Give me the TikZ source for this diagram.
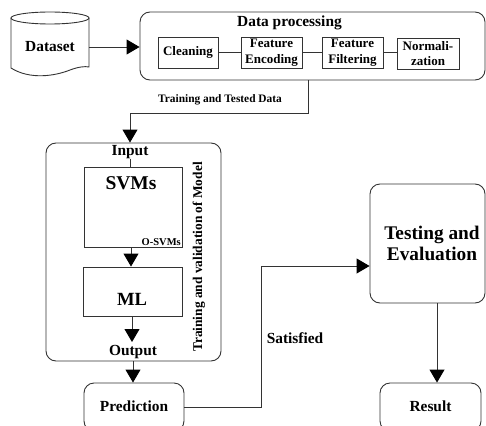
\documentclass[tikz,border=0pt]{standalone}
\usepackage{fontspec}
\setmainfont{Liberation Serif}
\usetikzlibrary{arrows.meta}
\begin{document}
\begin{tikzpicture}[x=1pt,y=-1pt,
  ln/.style={draw=black!80, line width=0.9pt},
  arr/.style={ln, -{Triangle[length=13pt,width=15pt,color=black]}},
  box/.style={ln, inner sep=0pt, align=center, font=\bfseries\fontsize{13}{15.5}\selectfont},
  rbox/.style={ln, rounded corners=10pt, inner sep=0pt, align=center},
  lbl/.style={inner sep=0pt, align=center, font=\bfseries\fontsize{15.4}{18}\selectfont},
]
\useasboundingbox (0,0) rectangle (486,425);
% Dataset cylinder
\draw[ln] (11,18) -- (11,68) .. controls (30,80) and (55,76) .. (70,70) .. controls (78,67) and (85,66) .. (89,67) -- (89,18);
\draw[ln] (50,18) ellipse [x radius=39, y radius=6];
\node[lbl, minimum width=78pt] (ds) at (50,47) {Dataset};
% Data processing
\node[rbox, minimum width=345pt, minimum height=68pt] (dp) at (312.5,46) {};
\node[lbl] (dpt) at (289.5,23) {Data processing};
\node[box, minimum width=60pt, minimum height=31pt] (cl) at (188,52.5) {Cleaning};
\node[box, minimum width=61pt, minimum height=31pt] (fe) at (271.5,52.5) {Feature\\Encoding};
\node[box, minimum width=61pt, minimum height=31pt] (ff) at (352.5,52.5) {Feature\\Filtering};
\node[box, minimum width=62pt, minimum height=31pt] (nm) at (428,53.5) {Normali-\\zation};
\draw[ln] (cl.east) -- (fe.west);
\draw[ln] (fe.east) -- (ff.west);
\draw[ln] (ff.east) -- (nm.west |- ff.east);
\draw[arr] (ds.east) -- (dp.west |- ds.east);
% Training and tested data
\node[inner sep=0pt, font=\bfseries\fontsize{11.4}{13}\selectfont] (ttd) at (220,100) {Training and Tested Data};
\coordinate (c1) at (308,113);
\coordinate (c2) at (130,113);
% Training box
\node[rbox, minimum width=175pt, minimum height=218pt] (tr) at (133.5,252) {};
\draw[arr] (dp.south -| c1) -- (c1) -- (c2) -- (c2 |- tr.north);
\node[lbl] (in) at (130,152) {Input};
\node[ln, inner sep=0pt, minimum width=98pt, minimum height=80pt] (svm) at (133,207) {};
\node[inner sep=0pt, font=\bfseries\fontsize{19.5}{22}\selectfont] (svmt) at (131,183) {SVMs};
\node[anchor=south east, inner sep=1.5pt, font=\bfseries\fontsize{10.5}{12}\selectfont] (osvm) at (svm.south east) {O-SVMs};
\draw[ln] (in.south -| 130,0) -- (svm.north -| 130,0);
\node[ln, inner sep=0pt, minimum width=99pt, minimum height=49pt] (ml) at (132.5,291.5) {};
\node[inner sep=0pt, font=\bfseries\fontsize{18.6}{22}\selectfont] (mlt) at (132,299) {ML};
\draw[arr] (svm.south -| 131,0) -- (ml.north -| 131,0);
\node[lbl] (out) at (133,352) {Output};
\draw[arr] (ml.south -| 132,0) -- (132,342);
\node[rotate=90, inner sep=0pt, font=\bfseries\fontsize{13.4}{15}\selectfont] (trl) at (199,257) {Training and validation of Model};
% Prediction
\node[rbox, minimum width=100pt, minimum height=48pt] (pred) at (134,407) {};
\node[lbl] (predt) at (134,406) {Prediction};
\draw[arr] (tr.south -| 133,0) -- (pred.north -| 133,0);
% Testing and Evaluation
\node[rbox, minimum width=115pt, minimum height=119pt] (te) at (427.5,243.5) {};
\node[inner sep=0pt, align=center, font=\bfseries\fontsize{19.3}{21}\selectfont] (tet) at (432,243.5) {Testing and\\Evaluation};
\coordinate (bend) at (261,266);
\draw[arr] (pred.east) -| (bend) -- (bend -| te.west);
\node[lbl] (sat) at (295,338) {Satisfied};
% Result
\node[rbox, minimum width=101pt, minimum height=48pt] (res) at (430.5,407) {};
\node[lbl] (rest) at (430.5,406) {Result};
\coordinate (tb) at (437,303);
\draw[arr] (te.south -| tb) -- (res.north -| tb);
\end{tikzpicture}
\end{document}
